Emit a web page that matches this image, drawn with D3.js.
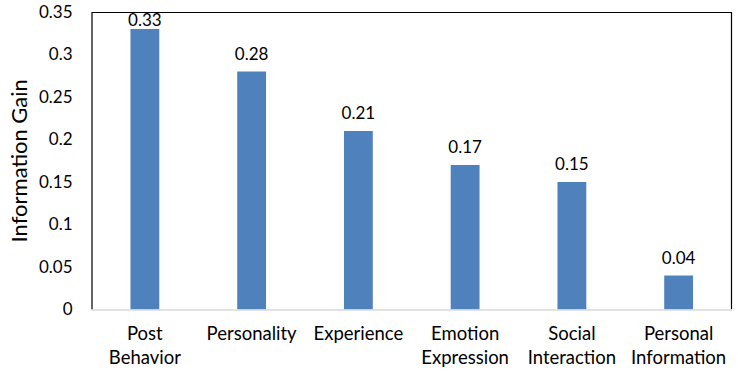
<!DOCTYPE html>
<html>
<head>
<meta charset="utf-8">
<script src="https://cdn.jsdelivr.net/npm/d3@7"></script>
<style>
  body { margin: 0; background: #fff; }
  svg { display: block; font-family: Lato, "Open Sans", sans-serif; }
</style>
</head>
<body>
<div id="chart"></div>
<script>
const categories = [
  ["Post", "Behavior"],
  ["Personality"],
  ["Experience"],
  ["Emotion", "Expression"],
  ["Social", "Interaction"],
  ["Personal", "Information"],
];
const values = [0.33, 0.28, 0.21, 0.17, 0.15, 0.04];
const yTicks = [0, 0.05, 0.1, 0.15, 0.2, 0.25, 0.3, 0.35];

const dims = { width: 738, height: 371 };
const margin = { top: 12, right: 6, bottom: 61.5, left: 91.5 };
const w = dims.width - margin.left - margin.right;
const h = dims.height - margin.top - margin.bottom;

const svg = d3
  .select("#chart")
  .append("svg")
  .attr("width", dims.width)
  .attr("height", dims.height);

const g = svg.append("g").attr("transform", `translate(${margin.left},${margin.top})`);

const x = d3
  .scaleBand()
  .domain(d3.range(values.length))
  .range([0, w])
  .paddingInner(0.73)
  .paddingOuter(0.365);

const y = d3.scaleLinear().domain([0, 0.35]).range([h, 0]);

// plot frame: black on left, top, right
g.append("path")
  .attr("d", `M0.5,${h} V0.5 H${w - 0.5} V${h}`)
  .attr("fill", "none")
  .attr("stroke", "#000")
  .attr("stroke-width", 1.2);

// bars
g.selectAll(".bar")
  .data(values)
  .enter()
  .append("rect")
  .attr("class", "bar")
  .attr("x", (d, i) => x(i))
  .attr("y", (d) => y(d))
  .attr("width", x.bandwidth())
  .attr("height", (d) => h - y(d))
  .attr("fill", "#4f81bd");

// x axis line (gray)
g.append("line")
  .attr("x1", 0)
  .attr("x2", w)
  .attr("y1", h + 0.5)
  .attr("y2", h + 0.5)
  .attr("stroke", "#d9d9d9")
  .attr("stroke-width", 1.5);

// value labels, kept inside plot like excel does
g.selectAll(".val")
  .data(values)
  .enter()
  .append("text")
  .attr("x", (d, i) => x(i) + x.bandwidth() / 2)
  .attr("y", (d) => Math.max(y(d) - 12, 14))
  .attr("text-anchor", "middle")
  .attr("font-size", "17px")
  .attr("fill", "#000")
  .text((d) => d.toFixed(2));

// y tick labels
const yAxis = d3
  .axisLeft(y)
  .tickValues(yTicks)
  .tickSize(0)
  .tickPadding(19)
  .tickFormat((d) => (d === 0 ? "0" : String(+d.toFixed(2))));

g.append("g")
  .call(yAxis)
  .call((s) => s.select(".domain").remove())
  .selectAll("text")
  .attr("font-family", "Lato, 'Open Sans', sans-serif")
  .attr("font-size", "17px")
  .attr("fill", "#000");

// category labels (two lines)
const cat = g
  .selectAll(".cat")
  .data(categories)
  .enter()
  .append("text")
  .attr("text-anchor", "middle")
  .attr("font-size", "18.5px")
  .attr("fill", "#000");

cat
  .selectAll("tspan")
  .data((d, i) => d.map((line) => ({ line, i })))
  .enter()
  .append("tspan")
  .attr("x", (d) => x(d.i) + x.bandwidth() / 2)
  .attr("y", (d, j) => h + 30 + j * 24.5)
  .text((d) => d.line);

// axis title
svg
  .append("text")
  .attr("transform", `translate(27,${margin.top + h / 2}) rotate(-90)`)
  .attr("text-anchor", "middle")
  .attr("font-size", "22px")
  .attr("fill", "#000")
  .text("Information Gain");
</script>
</body>
</html>
